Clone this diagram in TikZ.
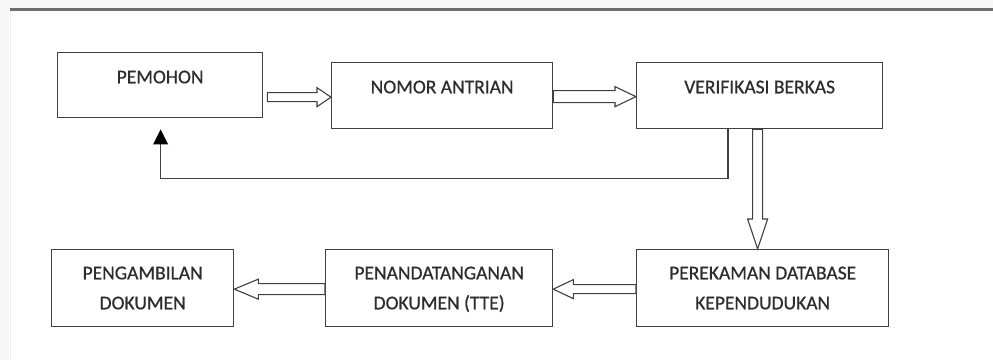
\documentclass[tikz,border=0pt]{standalone}
\usepackage{fontspec}
\setmainfont{Carlito}[FakeBold=0.7]
\usetikzlibrary{calc}
\definecolor{lineC}{RGB}{64,64,64}
\definecolor{textC}{RGB}{45,45,45}
\definecolor{ruleC}{RGB}{110,110,110}
\definecolor{faintC}{RGB}{236,236,236}
\tikzset{
  box/.style={draw=lineC, line width=1.3pt, inner sep=0pt, anchor=north west},
  txt/.style={text=textC, font=\fontsize{19.5}{30}\selectfont, inner sep=0pt, anchor=base},
  blockarrow/.style={draw=lineC, line width=1.1pt, fill=white, line join=miter},
  feedback/.style={draw=lineC, line width=1.3pt},
}
\begin{document}
\begin{tikzpicture}[x=1pt,y=-1pt]
\useasboundingbox (0,0) rectangle (993,360);
\fill[white] (0,0) rectangle (993,360);
\fill[faintC!50] (0,0) rectangle (993,8);
\fill[faintC!50] (0,0) rectangle (9,360);
\draw[faintC, line width=1pt] (10,10) -- (10,360);
\draw[ruleC, line width=2.2pt] (10,9.5) -- (993,9.5);

% boxes
\node[box, minimum width=205pt, minimum height=65pt] (pem) at (57,52) {};
\node[box, minimum width=221pt, minimum height=66pt] (nom) at (331,62) {};
\node[box, minimum width=246pt, minimum height=66pt] (ver) at (636,62) {};
\node[box, minimum width=252pt, minimum height=77pt] (per) at (636,249) {};
\node[box, minimum width=227pt, minimum height=77pt] (pen) at (325,249) {};
\node[box, minimum width=182pt, minimum height=77pt] (pga) at (51,249) {};

% texts
\node[txt] (tpem) at ($(pem.north)+(0,31.3)$) {PEMOHON};
\node[txt] (tnom) at ($(nom.north)+(0,31.3)$) {NOMOR ANTRIAN};
\node[txt] (tver) at ($(ver.north)+(0,31.3)$) {VERIFIKASI BERKAS};
\node[txt] (tper1) at ($(per.north)+(0,30.3)$) {PEREKAMAN DATABASE};
\node[txt] (tper2) at ($(per.north)+(0,60.3)$) {KEPENDUDUKAN};
\node[txt] (tpen1) at ($(pen.north)+(0,30.3)$) {PENANDATANGANAN};
\node[txt] (tpen2) at ($(pen.north)+(0,60.3)$) {DOKUMEN (TTE)};
\node[txt] (tpga1) at ($(pga.north)+(0,30.3)$) {PENGAMBILAN};
\node[txt] (tpga2) at ($(pga.north)+(0,60.3)$) {DOKUMEN};

% block arrow PEMOHON -> NOMOR
\coordinate (a1t) at ($(nom.west)+(0,1.5)$);
\draw[blockarrow]
  let \p1=(a1t), \p2=(pem.east) in
  (\x2+4,\y1-4.5) -- (\x1-14,\y1-4.5) -- (\x1-14,\y1-9.5) -- (\x1,\y1)
  -- (\x1-14,\y1+9.5) -- (\x1-14,\y1+4.5) -- (\x2+4,\y1+4.5) -- cycle;

% block arrow NOMOR -> VERIFIKASI
\coordinate (a2t) at ($(ver.west)+(0,1)$);
\draw[blockarrow]
  let \p1=(a2t), \p2=(nom.east) in
  (\x2,\y1-6) -- (\x1-21,\y1-6) -- (\x1-21,\y1-10) -- (\x1,\y1)
  -- (\x1-21,\y1+10) -- (\x1-21,\y1+6) -- (\x2,\y1+6) -- cycle;

% block arrow VERIFIKASI -> PEREKAMAN (down); canvas y grows upward
\coordinate (a3t) at ($(per.north)+(-5,0)$);
\draw[blockarrow]
  let \p1=(a3t), \p2=(ver.south) in
  (\x1-5,\y2) -- (\x1-5,\y1+30) -- (\x1-10,\y1+30) -- (\x1,\y1)
  -- (\x1+10,\y1+30) -- (\x1+5,\y1+30) -- (\x1+5,\y2) -- cycle;

% block arrow PEREKAMAN -> PENANDATANGANAN
\coordinate (a4t) at ($(pen.east)+(0,1)$);
\draw[blockarrow]
  let \p1=(a4t), \p2=(per.west) in
  (\x2,\y1-4.5) -- (\x1+20,\y1-4.5) -- (\x1+20,\y1-9.5) -- (\x1,\y1)
  -- (\x1+20,\y1+9.5) -- (\x1+20,\y1+4.5) -- (\x2,\y1+4.5) -- cycle;

% block arrow PENANDATANGANAN -> PENGAMBILAN
\coordinate (a5t) at ($(pga.east)+(0,1)$);
\draw[blockarrow]
  let \p1=(a5t), \p2=(pen.west) in
  (\x2,\y1-5.5) -- (\x1+24,\y1-5.5) -- (\x1+24,\y1-10) -- (\x1,\y1)
  -- (\x1+24,\y1+10) -- (\x1+24,\y1+5.5) -- (\x2,\y1+5.5) -- cycle;

% feedback VERIFIKASI -> PEMOHON
\coordinate (fbs) at ($(ver.south west)+(92,0)$);
\coordinate (fbt) at ($(pem.south)+(0.5,11)$);
\draw[feedback] (fbs) -- ++(0,49) -| ($(fbt)+(0,14)$);
\fill[black] (fbt) -- ++(-7.5,15) -- ++(15,0) -- cycle;
\end{tikzpicture}
\end{document}
